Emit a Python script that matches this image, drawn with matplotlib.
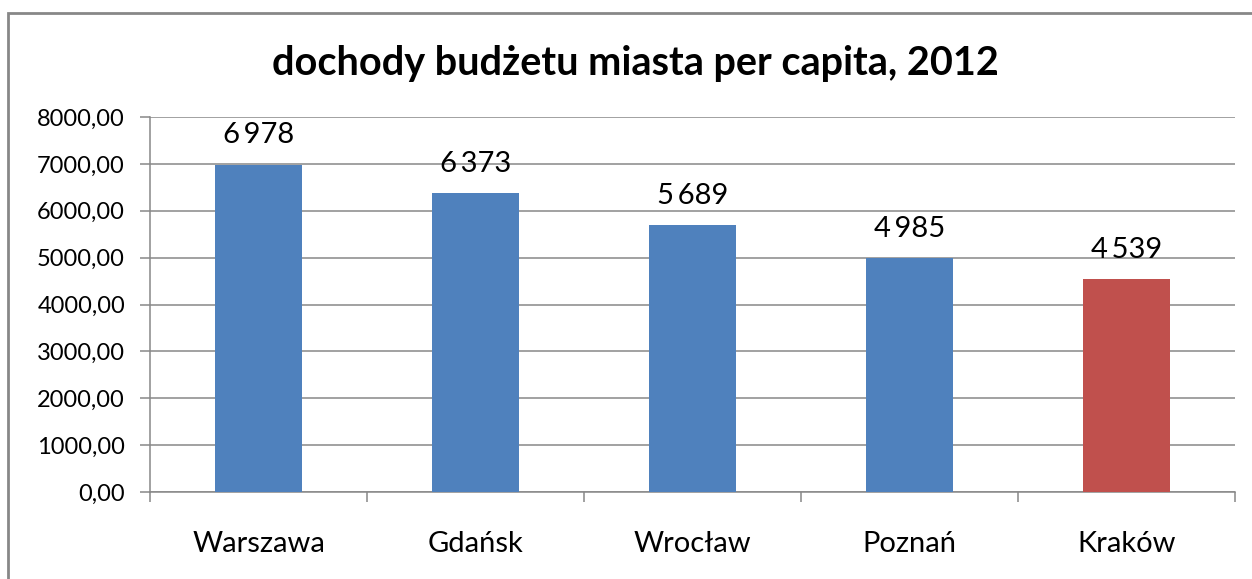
from matplotlib import pyplot as plt
from matplotlib.patches import Rectangle

# dane z wykresu
cities = ['Warszawa', 'Gdańsk', 'Wrocław', 'Poznań', 'Kraków']
income = [6978, 6373, 5689, 4985, 4539]
bar_colors = ['#4F81BD', '#4F81BD', '#4F81BD', '#4F81BD', '#C0504D']
yticks = [0, 1000, 2000, 3000, 4000, 5000, 6000, 7000, 8000]
title = 'dochody budżetu miasta per capita, 2012'

plt.rcParams['font.family'] = ['Lato', 'DejaVu Sans']

W, H = 1252, 579
fig = plt.figure(figsize=(W / 100, H / 100), dpi=100)
fig.patch.set_facecolor('white')

# ramka wokol wykresu
fig.patches.append(Rectangle((8 / W, -0.05), 1.1, (H - 13) / H + 0.05,
                             transform=fig.transFigure, fill=False,
                             edgecolor='#878787', linewidth=2))

ax = fig.add_axes([150 / W, (H - 492) / H, (1235 - 150) / W, (492 - 117) / H])
x = list(range(len(cities)))
ax.bar(x, income, width=0.4, color=bar_colors, zorder=3)

ax.set_xlim(-0.5, len(cities) - 0.5)
ax.set_ylim(0, 8000)
ax.set_yticks(yticks)
ax.set_yticklabels(['%d,00' % v for v in yticks], fontsize=17)
ax.yaxis.grid(True, color='#888888', linewidth=1.1, zorder=0)

ax.set_xticks(x)
ax.set_xticklabels(cities, fontsize=21)
ax.set_xticks([i - 0.5 for i in range(len(cities) + 1)], minor=True)
ax.tick_params(axis='x', which='major', length=0, pad=28)
ax.tick_params(axis='x', which='minor', length=7, color='#888888', width=1.1)
ax.tick_params(axis='y', length=7, color='#888888', width=1.1, pad=11)

for s in ['top', 'right']:
    ax.spines[s].set_visible(False)
for s in ['left', 'bottom']:
    ax.spines[s].set_color('#888888')
    ax.spines[s].set_linewidth(1.1)

for xi, v in zip(x, income):
    label = '{:,}'.format(v).replace(',', '\u2009')
    ax.annotate(label, (xi, v), xytext=(0, 12), textcoords='offset points',
                ha='center', va='bottom', fontsize=21, zorder=4)

fig.text(635.5 / W, (H - 64) / H, title, ha='center', va='center',
         fontsize=28.5, fontweight='bold')

plt.savefig('out.png', dpi=100)
